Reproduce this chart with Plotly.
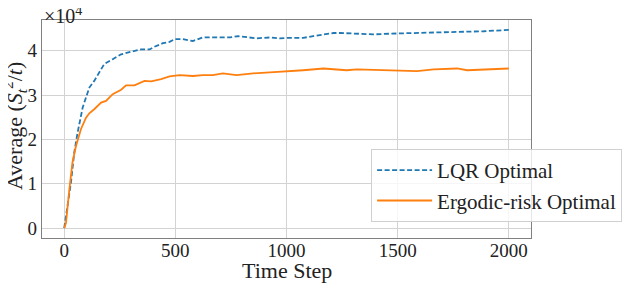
import plotly.graph_objects as go

# Time steps and series values (raw, in units of 1)
lqr_x = [0, 30, 45, 60, 83, 113, 135, 180, 218, 256, 301, 346, 384, 406, 444, 474, 497, 534,
         579, 624, 700, 745, 782, 820, 865, 925, 970, 1000, 1075, 1120, 1166, 1211, 1241, 1301,
         1391, 1497, 1587, 1692, 1752, 1813, 1888, 1948, 2000]
lqr_y = [0, 10200, 17000, 21500, 27200, 31700, 33200, 37000, 38100, 39200, 39800, 40300, 40300,
         40900, 41700, 42000, 42600, 42600, 42200, 43000, 43000, 43000, 43300, 43000, 42800,
         43000, 42800, 42900, 42900, 43300, 43700, 44000, 44000, 43900, 43700, 43900, 44000,
         44000, 44100, 44300, 44400, 44600, 44700]

erg_x = [0, 8, 23, 37, 53, 75, 98, 113, 135, 166, 188, 218, 256, 278, 316, 361, 391, 436, 474,
         519, 579, 624, 669, 714, 775, 850, 925, 1000, 1075, 1166, 1226, 1271, 1316, 1391, 1467,
         1542, 1587, 1662, 1767, 1813, 1888, 1948, 2000]
erg_y = [0, 1200, 8700, 14800, 18500, 22300, 24900, 25900, 26800, 28300, 28700, 30200, 31200,
         32200, 32200, 33200, 33100, 33600, 34200, 34500, 34300, 34500, 34500, 34900, 34500,
         34900, 35100, 35300, 35600, 36000, 35800, 35600, 35800, 35700, 35700, 35500, 35400,
         35800, 36000, 35600, 35700, 35800, 36000]

x_ticks = [0, 500, 1000, 1500, 2000]
y_ticks = [0, 10000, 20000, 30000, 40000]
y_tick_labels = ["0", "1", "2", "3", "4"]

FONT = "Liberation Serif, Times New Roman, serif"
TXT = "#222222"
TICKF = dict(family=FONT, size=19, color=TXT)
TITLEF = dict(family=FONT, size=22, color=TXT)
LEGF = dict(family=FONT, size=21, color=TXT)

fig = go.Figure()
fig.add_trace(go.Scatter(x=lqr_x, y=lqr_y, mode="lines", name="LQR Optimal",
                         line=dict(color="#1f77b4", width=1.8, dash="5px,2.5px")))
fig.add_trace(go.Scatter(x=erg_x, y=erg_y, mode="lines", name="Ergodic-risk Optimal",
                         line=dict(color="#ff7f0e", width=1.8)))

ymax = max(max(lqr_y), max(erg_y))
# page body has an 8px default margin, so the figure is 8px smaller and shifted
fig.update_layout(
    width=626, height=278,
    margin=dict(l=34, r=103, t=12, b=48),
    paper_bgcolor="white", plot_bgcolor="white",
    font=TICKF,
    showlegend=True,
    legend=dict(x=0.673, y=0.408, xanchor="left", yanchor="top",
                bgcolor="rgba(255,255,255,0.8)", bordercolor="#d0d0d0", borderwidth=1,
                itemwidth=55, font=LEGF),
    xaxis=dict(range=[-100, 2100], tickvals=x_ticks, ticks="", showgrid=True,
               gridcolor="#d3d3d3", gridwidth=1, zeroline=False, automargin=False,
               showline=True, linecolor="#808080", linewidth=1.2, mirror=True,
               ticklabelstandoff=-5, tickfont=TICKF),
    yaxis=dict(range=[-0.05 * ymax, 1.05 * ymax], tickvals=y_ticks, ticktext=y_tick_labels,
               ticks="", showgrid=True, gridcolor="#d3d3d3", gridwidth=1, zeroline=False,
               automargin=False,
               showline=True, linecolor="#808080", linewidth=1.2, mirror=True,
               tickfont=TICKF),
    annotations=[
        dict(text="×10<sup>4</sup>", xref="paper", yref="paper", x=0, y=1,
             xanchor="left", yanchor="bottom", showarrow=False,
             font=dict(family=FONT, size=20, color=TXT), yshift=-9),
        dict(text="Time Step", xref="paper", yref="paper", x=0.5, y=-0.151,
             xanchor="center", yanchor="middle", showarrow=False, font=TITLEF),
        dict(text="Average (<i>S</i><sub><i>t</i></sub><sup>2</sup>/<i>t</i>)",
             xref="paper", yref="paper", x=-0.0552, y=0.514, textangle=-90,
             xanchor="center", yanchor="middle", showarrow=False, font=TITLEF),
    ],
)

fig.write_html("out.html")
